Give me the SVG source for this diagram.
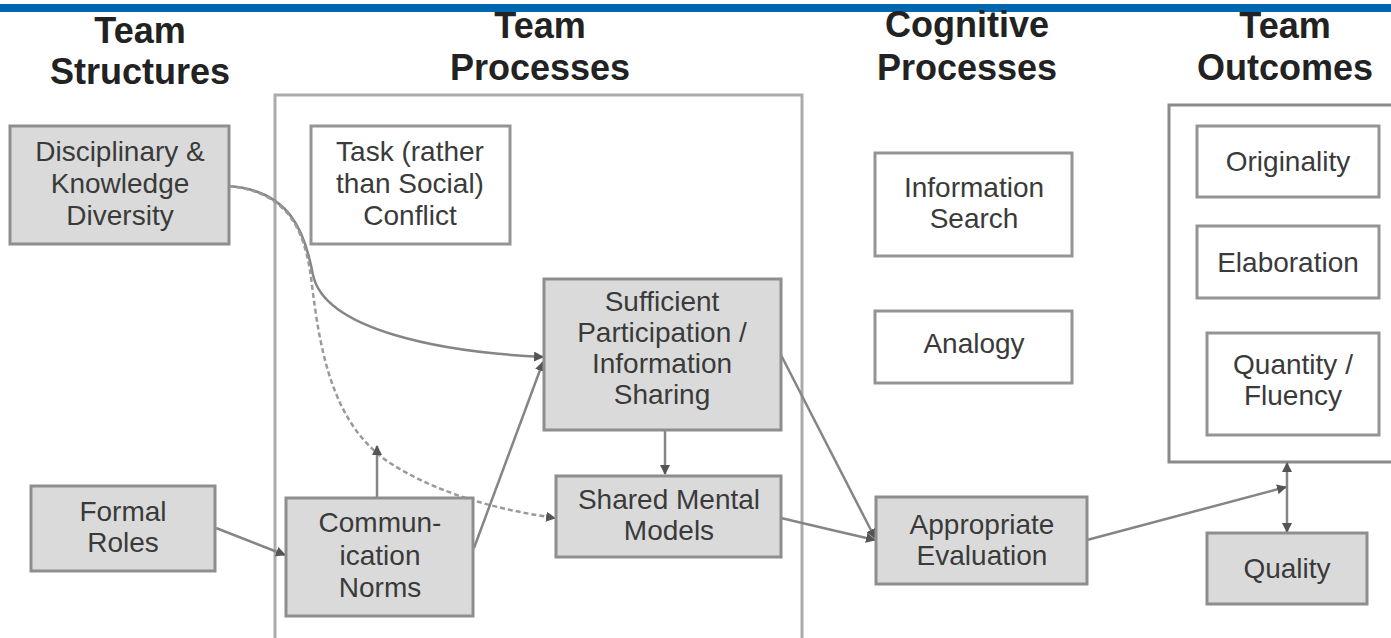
<svg xmlns="http://www.w3.org/2000/svg" width="1391" height="638" viewBox="0 0 1391 638">
<defs>
<marker id="arr" viewBox="0 0 10 10" refX="9" refY="5" markerWidth="4" markerHeight="4" orient="auto-start-reverse" markerUnits="strokeWidth">
<path d="M0,0 L10,5 L0,10 z" fill="#555"/>
</marker>
</defs>
<style>
.hdr{font-family:"Liberation Sans",Arial,sans-serif;font-weight:bold;font-size:36px;fill:#222;text-anchor:middle}
.t{font-family:"Liberation Sans",Arial,sans-serif;font-size:28px;fill:#3a3a3a;text-anchor:middle}
.g{fill:#dadadb;stroke:#8e8e8e;stroke-width:3}
.w{fill:#ffffff;stroke:#949494;stroke-width:3}
.cont{fill:none;stroke:#ababab;stroke-width:3}
.cont2{fill:none;stroke:#8a8a8a;stroke-width:3}
.c{fill:none;stroke:#858585;stroke-width:2.5;marker-end:url(#arr)}
.cd{fill:none;stroke:#9a9a9a;stroke-width:2.5;stroke-dasharray:5 3;marker-end:url(#arr)}
</style>
<rect x="0" y="4" width="1391" height="8" fill="#0068b0"/>
<g id="headers">
<text class="hdr" x="140" y="43">Team</text>
<text class="hdr" x="140" y="84">Structures</text>
<text class="hdr" x="540" y="38">Team</text>
<text class="hdr" x="540" y="80">Processes</text>
<text class="hdr" x="967" y="37">Cognitive</text>
<text class="hdr" x="967" y="80">Processes</text>
<text class="hdr" x="1285" y="38">Team</text>
<text class="hdr" x="1285" y="80">Outcomes</text>
</g>
<g id="team-processes-container"><rect class="cont" x="275" y="95" width="527" height="560"/></g>
<g id="team-outcomes-container"><rect class="cont2" x="1169" y="105" width="240" height="357"/></g>
<g id="connectors">
<path class="c" d="M228,186 C290,190 305,232 313,275 C325,330 440,352 543,357"/>
<path class="cd" d="M228,186 C290,192 303,232 310,270 C318,330 325,420 390,463 C440,495 500,510 555,518"/>
<path class="c" d="M377,497 L377,446"/>
<path class="c" d="M474,548 L543,362"/>
<path class="c" d="M665,430 L665,474"/>
<path class="c" d="M216,528 L285,555"/>
<path class="c" d="M781,355 L875,538"/>
<path class="c" d="M781,518 C810,525 845,533 875,540"/>
<path class="c" d="M1087,540 L1286,487"/>
<path class="c" d="M1287,487 L1287,463"/>
<path class="c" d="M1287,487 L1287,532"/>
</g>
<g id="n-diversity">
<rect class="g" x="10" y="126" width="219" height="118"/>
<text class="t" x="120" y="161">Disciplinary &amp;</text>
<text class="t" x="120" y="193">Knowledge</text>
<text class="t" x="120" y="225">Diversity</text>
</g>
<g id="n-task-conflict">
<rect class="w" x="311" y="126" width="199" height="118"/>
<text class="t" x="410" y="161">Task (rather</text>
<text class="t" x="410" y="193">than Social)</text>
<text class="t" x="410" y="225">Conflict</text>
</g>
<g id="n-formal-roles">
<rect class="g" x="31" y="486" width="184" height="85"/>
<text class="t" x="123" y="521">Formal</text>
<text class="t" x="123" y="552">Roles</text>
</g>
<g id="n-comm-norms">
<rect class="g" x="286" y="498" width="187" height="118"/>
<text class="t" x="380" y="532">Commun-</text>
<text class="t" x="380" y="565">ication</text>
<text class="t" x="380" y="597">Norms</text>
</g>
<g id="n-participation">
<rect class="g" x="544" y="279" width="237" height="151"/>
<text class="t" x="662" y="311">Sufficient</text>
<text class="t" x="662" y="342">Participation /</text>
<text class="t" x="662" y="373">Information</text>
<text class="t" x="662" y="404">Sharing</text>
</g>
<g id="n-shared-mental">
<rect class="g" x="556" y="476" width="225" height="81"/>
<text class="t" x="669" y="509">Shared Mental</text>
<text class="t" x="669" y="540">Models</text>
</g>
<g id="n-info-search">
<rect class="w" x="875" y="153" width="197" height="103"/>
<text class="t" x="974" y="197">Information</text>
<text class="t" x="974" y="228">Search</text>
</g>
<g id="n-analogy">
<rect class="w" x="875" y="311" width="197" height="72"/>
<text class="t" x="974" y="353">Analogy</text>
</g>
<g id="n-appropriate-eval">
<rect class="g" x="876" y="497" width="211" height="87"/>
<text class="t" x="982" y="534">Appropriate</text>
<text class="t" x="982" y="565">Evaluation</text>
</g>
<g id="n-originality">
<rect class="w" x="1197" y="126" width="182" height="71"/>
<text class="t" x="1288" y="171">Originality</text>
</g>
<g id="n-elaboration">
<rect class="w" x="1197" y="226" width="182" height="72"/>
<text class="t" x="1288" y="272">Elaboration</text>
</g>
<g id="n-quantity">
<rect class="w" x="1207" y="333" width="172" height="102"/>
<text class="t" x="1293" y="374">Quantity /</text>
<text class="t" x="1293" y="405">Fluency</text>
</g>
<g id="n-quality">
<rect class="g" x="1207" y="533" width="160" height="71"/>
<text class="t" x="1287" y="578">Quality</text>
</g>
</svg>
